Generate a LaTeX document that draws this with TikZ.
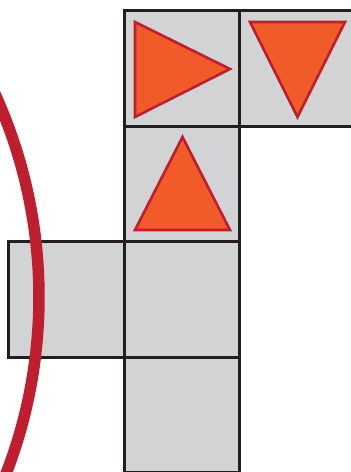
\documentclass[tikz,border=0pt]{standalone}
\usetikzlibrary{positioning}
\definecolor{cgrey}{HTML}{D1D3D4}
\definecolor{cblack}{HTML}{231F20}
\definecolor{corange}{HTML}{F15A29}
\definecolor{cred}{HTML}{BE1E2D}
\tikzset{
  cell/.style={draw=cblack, fill=cgrey, line width=3pt, minimum size=115.5pt, inner sep=0pt, outer sep=0pt},
  tri/.style={draw=cred, fill=corange, line width=2.6pt, line join=miter},
  ring/.style={draw=cred, line width=11.5pt},
}

\begin{document}
\begin{tikzpicture}[x=1pt, y=1pt]
  \useasboundingbox (0,0) rectangle (351,-472);
  \clip (0,0) rectangle (351,-472);
  % net of cells
  \node[cell] (top) at (181.75,-68.5) {};
  \node[cell, right=0pt of top] (side) {};
  \node[cell, below=0pt of top] (mid) {};
  \node[cell, below=0pt of mid] (low) {};
  \node[cell, left=0pt of low] (wing) {};
  \node[cell, below=0pt of low] (base) {};
  % triangles
  \draw[tri] (135,-22) -- (135,-117) -- (230,-69) -- cycle;
  \draw[tri] (250,-22) -- (345,-22) -- (297.5,-117) -- cycle;
  \draw[tri] (135,-230) -- (230,-230) -- (182.5,-137) -- cycle;
  % red arc
  \coordinate (hub) at (-451,-297);
  \draw[ring] (hub) ++(-28:490) arc[start angle=-28, end angle=40, radius=490];
\end{tikzpicture}
\end{document}
